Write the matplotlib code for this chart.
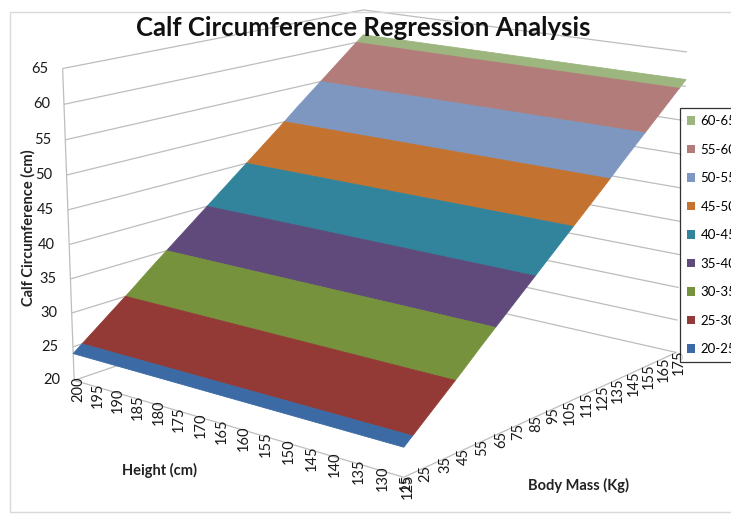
import numpy as np
import matplotlib
matplotlib.use("Agg")
import matplotlib.pyplot as plt
from matplotlib.patches import Patch, Rectangle
from matplotlib.transforms import offset_copy
from mpl_toolkits.mplot3d.art3d import Poly3DCollection

# Body mass categories (kg), front-right axis
body_mass = [15, 25, 35, 45, 55, 65, 75, 85, 95, 105, 115, 125, 135, 145, 155, 165, 175]
# Height series (cm), front-left axis
height = [200, 195, 190, 185, 180, 175, 170, 165, 160, 155, 150, 145, 140, 135, 130, 125]
# Predicted calf circumference (cm) for each body mass (flat across height)
calf_cm = [24.0, 26.3, 28.6, 30.9, 33.3, 35.6, 37.9, 40.2, 42.5,
           44.8, 47.1, 49.4, 51.8, 54.1, 56.4, 58.7, 61.0]
# Value axis ticks / colour bands
z_ticks = [20, 25, 30, 35, 40, 45, 50, 55, 60, 65]
band_labels = ["20-25", "25-30", "30-35", "35-40", "40-45",
               "45-50", "50-55", "55-60", "60-65"]
band_colors = ["#3B6AA4", "#933A36", "#76923C", "#5F4A7B", "#31849B",
               "#C4722F", "#7D97C0", "#B27C7A", "#9DB57F"]

plt.rcParams["font.family"] = ["Lato", "DejaVu Sans"]

W, H = 731, 514
fig = plt.figure(figsize=(W / 100, H / 100), dpi=100)
fig.patch.set_facecolor("white")

# square 3D axes, centre and side in pixels
side, cx, cy = 675, 372, 225
ax = fig.add_axes([(cx - side / 2) / W, 1 - (cy + side / 2) / H, side / W, side / H],
                  projection="3d", computed_zorder=False)
ax.set_proj_type("persp", focal_length=0.6)
ax.view_init(elev=14.5, azim=-141)
ax.set_box_aspect((1.03, 0.95, 0.715), zoom=1.0)
ax.set_axis_off()
ax.patch.set_alpha(0)

mass = np.asarray(body_mass, float)
calf = np.asarray(calf_cm, float)
h_lo, h_hi = min(height), max(height)
m_lo, m_hi = mass[0], mass[-1]
z_lo, z_hi = z_ticks[0], z_ticks[-1]
ax.set_xlim(m_lo, m_hi)
ax.set_ylim(h_lo, h_hi)
ax.set_zlim(z_lo, z_hi)

# walls: value gridlines on the two back walls, plus floor edges and value axis
grid_kw = dict(color="#BDBDBD", lw=0.9, zorder=1, solid_capstyle="butt")
for z in z_ticks:
    ax.plot([m_lo, m_hi], [h_hi, h_hi], [z, z], **grid_kw)
    ax.plot([m_hi, m_hi], [h_hi, h_lo], [z, z], **grid_kw)
ax.plot([m_lo, m_lo], [h_hi, h_lo], [z_lo, z_lo], **grid_kw)
ax.plot([m_lo, m_hi], [h_lo, h_lo], [z_lo, z_lo], **grid_kw)
ax.plot([m_lo, m_lo], [h_hi, h_hi], [z_lo, z_hi], **grid_kw)

# surface split into value bands
polys, faces = [], []
for lo, hi, col in zip(z_ticks[:-1], z_ticks[1:], band_colors):
    z0, z1 = max(lo, calf[0]), min(hi, calf[-1])
    if z0 >= z1:
        continue
    m0, m1 = np.interp([z0, z1], calf, mass)
    inner = (calf > z0) & (calf < z1)
    ms = np.concatenate([[m0], mass[inner], [m1]])
    zs = np.concatenate([[z0], calf[inner], [z1]])
    front = [(m, h_lo, z) for m, z in zip(ms, zs)]
    back = [(m, h_hi, z) for m, z in zip(ms[::-1], zs[::-1])]
    polys.append(front + back)
    faces.append(col)
surf = Poly3DCollection(polys, facecolors=faces, edgecolors=faces,
                        linewidths=0.6, zorder=2)
ax.add_collection3d(surf)

# projected positions for tick labels
M = ax.get_proj()


def to2d(xs, ys, zs):
    xs, ys, zs = (np.asarray(v, float) for v in (xs, ys, zs))
    vec = np.vstack([xs, ys, zs, np.ones_like(xs)])
    out = M @ vec
    return out[0] / out[3], out[1] / out[3]


tick_font = dict(fontsize=10.5, color="#1A1A1A", zorder=3)

zx, zy = to2d([m_lo] * len(z_ticks), [h_hi] * len(z_ticks), z_ticks)
tr = offset_copy(ax.transData, fig=fig, x=-14, y=0, units="dots")
for x2, y2, z in zip(zx, zy, z_ticks):
    ax.text2D(x2, y2, str(z), transform=tr, ha="right", va="center", **tick_font)

hx, hy = to2d([m_lo] * len(height), height, [z_lo] * len(height))
tr = offset_copy(ax.transData, fig=fig, x=4, y=4, units="dots")
for x2, y2, h in zip(hx, hy, height):
    ax.text2D(x2, y2, str(h), transform=tr, ha="center", va="top",
              rotation=90, **tick_font)

mx, my = to2d(mass, [h_lo] * len(mass), [z_lo] * len(mass))
tr = offset_copy(ax.transData, fig=fig, x=2, y=3, units="dots")
for x2, y2, m in zip(mx, my, body_mass):
    ax.text2D(x2, y2, str(m), transform=tr, ha="center", va="top",
              rotation=90, **tick_font)

# titles
fig.text(363 / W, 1 - 28 / H, "Calf Circumference Regression Analysis",
         ha="center", va="center", fontsize=18.5, fontweight="bold", color="#111111")
axis_title = dict(fontsize=10.5, fontweight="bold", color="#222222",
                  ha="center", va="center")
fig.text(28 / W, 1 - 228 / H, "Calf Circumference (cm)", rotation=90, **axis_title)
fig.text(159 / W, 1 - 470 / H, "Height (cm)", **axis_title)
fig.text(579 / W, 1 - 485 / H, "Body Mass (Kg)", **axis_title)

# legend, highest band on top
handles = [Patch(facecolor=c, edgecolor="none") for c in band_colors[::-1]]
leg = fig.legend(handles, band_labels[::-1], loc="upper left",
                 bbox_to_anchor=(680 / W, 1 - 108 / H), frameon=True,
                 fancybox=False, edgecolor="black", fontsize=9.5,
                 handlelength=0.6, handleheight=0.6, handletextpad=0.4,
                 labelspacing=1.25, borderpad=0.55, borderaxespad=0)
leg.get_frame().set_linewidth(0.9)

# chart-area border
fig.patches.append(Rectangle((10 / W, 2 / H), 1.0, 1 - 14 / H, transform=fig.transFigure,
                             fill=False, edgecolor="#D9D9D9", lw=1.0))

fig.savefig("out.png", dpi=100, facecolor="white")
